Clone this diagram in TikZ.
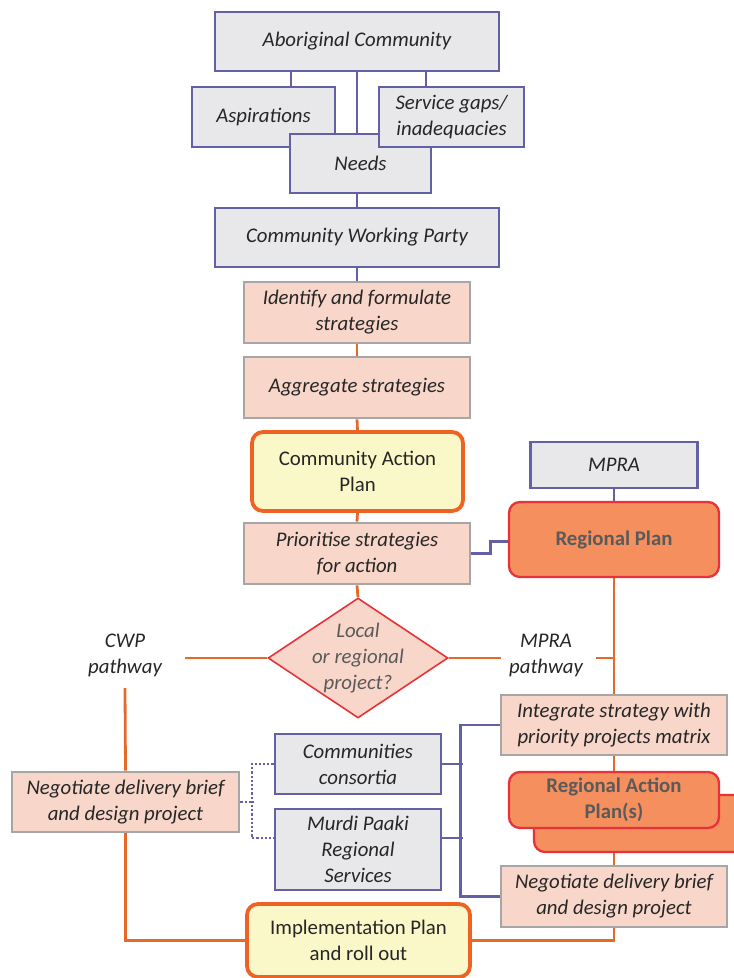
\documentclass[tikz,border=0pt]{standalone}
\usepackage{fontspec}
\setmainfont{Carlito}
\usetikzlibrary{shapes.geometric,backgrounds}
\definecolor{purp}{RGB}{100,96,166}
\definecolor{greyfill}{RGB}{232,232,235}
\definecolor{greyline}{RGB}{166,166,166}
\definecolor{pinkfill}{RGB}{248,214,201}
\definecolor{oline}{RGB}{228,106,44}
\definecolor{capline}{RGB}{238,98,36}
\definecolor{yfill}{RGB}{250,248,200}
\definecolor{redline}{RGB}{232,50,56}
\definecolor{ofill}{RGB}{245,143,94}
\definecolor{txt}{RGB}{38,38,38}
\definecolor{gtxt}{RGB}{90,90,90}
\tikzset{
  base/.style={inner sep=0pt, align=center, text=txt, font=\itshape\fontsize{20.8}{26}\selectfont},
  graybox/.style={base, draw=purp, fill=greyfill, line width=2.8pt},
  pinkbox/.style={base, draw=greyline, fill=pinkfill, line width=2.8pt},
  yellowbox/.style={base, font=\fontsize{20.8}{26}\selectfont, rounded corners=11pt, draw=capline, fill=yfill, line width=3.8pt},
  redbox/.style={base, font=\bfseries\fontsize{20.8}{26}\selectfont, text=gtxt, rounded corners=11pt, draw=redline, fill=ofill, line width=2.3pt},
  plain/.style={base},
  olink/.style={draw=oline, line width=2.8pt},
  plink/.style={draw=purp, line width=2.8pt},
  dlink/.style={draw=purp, line width=2.2pt, dotted},
}
\begin{document}
\begin{tikzpicture}[x=1pt,y=-1pt]
\useasboundingbox (0,0) rectangle (734,978);
% nodes
\node[graybox, minimum width=284pt, minimum height=59pt] (ab) at (357,41.5) {Aboriginal Community};
\node[graybox, minimum width=143pt, minimum height=60pt] (asp) at (263.5,117) {Aspirations};
\node[graybox, minimum width=141pt, minimum height=59pt] (need) at (360.5,163.5) {Needs};
\node[graybox, minimum width=145pt, minimum height=60pt] (svc) at (451.5,117) {Service gaps/\\inadequacies};
\node[graybox, minimum width=284pt, minimum height=59pt] (cwp) at (357,237.5) {Community Working Party};
\node[pinkbox, minimum width=226pt, minimum height=61pt] (ident) at (357,312.5) {Identify and formulate\\strategies};
\node[pinkbox, minimum width=226pt, minimum height=61pt] (aggr) at (357,387.5) {Aggregate strategies};
\node[yellowbox, minimum width=211pt, minimum height=79pt] (cap) at (357.5,471.5) {Community Action\\Plan};
\node[pinkbox, minimum width=226pt, minimum height=61pt] (prio) at (357,553.5) {Prioritise strategies\\for action};
\node[graybox, minimum width=167pt, minimum height=46pt] (mpra) at (614,465) {MPRA};
\node[redbox, minimum width=210pt, minimum height=75pt] (rp) at (614,539.5) {Regional Plan};
\node[diamond, draw=redline, fill=pinkfill, line width=1.6pt, inner sep=0pt, minimum width=180pt, minimum height=120pt] (dq) at (358,658) {};
\node[base, text=gtxt] (dqt) at (dq.center) {Local\\or regional\\project?};
\node[plain] (cwpL) at (125,655) {CWP\\pathway};
\node[plain] (mpraL) at (546,655) {MPRA\\pathway};
\node[pinkbox, minimum width=226pt, minimum height=60pt] (integ) at (614,725) {Integrate strategy with\\priority projects matrix};
\node[graybox, minimum width=166pt, minimum height=60pt] (cons) at (358,764) {Communities\\consortia};
\node[graybox, minimum width=166pt, minimum height=81pt] (murdi) at (358,849.5) {Murdi Paaki\\Regional\\Services};
\node[pinkbox, minimum width=227pt, minimum height=60pt] (negL) at (125.5,802) {Negotiate delivery brief\\and design project};
\node[redbox, minimum width=226pt, minimum height=57pt] (rapB) at (647,823.5) {};
\node[redbox, minimum width=210pt, minimum height=56pt] (rapF) at (614,800) {Regional Action\\Plan(s)};
\node[pinkbox, minimum width=226pt, minimum height=61pt] (negR) at (614,896.5) {Negotiate delivery brief\\and design project};
\node[yellowbox, minimum width=223pt, minimum height=73pt] (impl) at (358.5,940.5) {Implementation Plan\\and roll out};
\coordinate (cwpEnd) at (185,658);
\coordinate (mpraEnd) at (501,658);
\coordinate (mpraStart) at (596,658);
\coordinate (cwpTop) at (125,688);
% connectors
\begin{scope}[on background layer]
\draw[plink] ([xshift=-66pt]ab.south) -- ([xshift=-66pt]ab.south |- asp.north);
\draw[plink] ([xshift=69pt]ab.south) -- ([xshift=69pt]ab.south |- svc.north);
\draw[plink] (ab.south) -- (ab.south |- need.north);
\draw[plink] (cwp.north) -- (cwp.north |- need.south);
\draw[plink] (cwp.south) -- (ident.north);
\draw[olink] (ident.south) -- (aggr.north);
\draw[olink] (aggr.south) -- (cap.north);
\draw[olink] (cap.south) -- (prio.north);
\draw[olink] (prio.south) -- (dq.north);
\draw[plink] (mpra.south) -- (rp.north);
\draw[plink] (prio.east) -- ++(19,0) |- ([yshift=-2pt]rp.west);
\draw[olink] (dq.west) -- (cwpEnd);
\draw[olink] (dq.east) -- (mpraEnd);
\draw[olink] (rp.south) -- (integ.north);
\draw[olink] (mpraStart) -- (mpraStart -| rp.south);
\draw[olink] (cwpTop) -- (negL.north);
\draw[olink] (negL.south) |- (impl.west);
\draw[olink] (impl.east) -| (negR.south);
\draw[olink] (integ.south) -- (rapF.north);
\draw[olink] (negR.north) -- (negR.north |- rapB.south);
\draw[plink] (integ.west) -- ++(-39,0) |- (negR.west);
\draw[plink] (cons.east) -- ++(21,0);
\draw[plink] ([yshift=11.5pt]murdi.east) -- ++(21,0);
\draw[dlink] (negL.east) -- ++(14,0);
\draw[dlink] (cons.west) -- ++(-22,0) |- ([yshift=11.5pt]murdi.west);
\end{scope}
\end{tikzpicture}
\end{document}
